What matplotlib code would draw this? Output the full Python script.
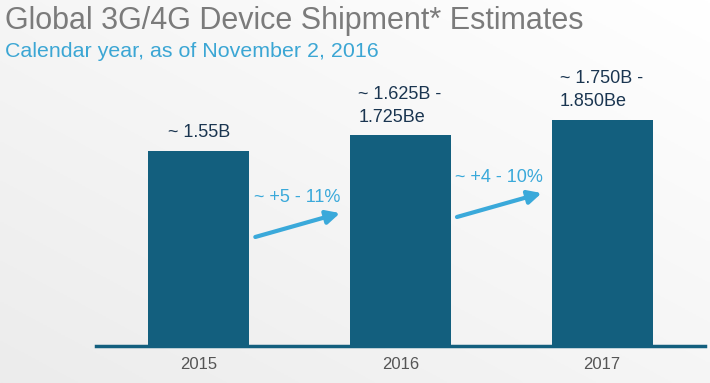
import matplotlib
matplotlib.use("Agg")
import matplotlib.pyplot as plt
import numpy as np

plt.rcParams['font.family'] = ['Liberation Sans', 'DejaVu Sans']

years = ["2015", "2016", "2017"]
values = [1.55, 1.675, 1.80]  # billions (midpoint of estimate ranges)
bar_labels = ["~ 1.55B", "~ 1.625B -\n1.725Be", "~ 1.750B -\n1.850Be"]
growth_labels = ["~ +5 - 11%", "~ +4 - 10%"]

title = "Global 3G/4G Device Shipment* Estimates"
subtitle = "Calendar year, as of November 2, 2016"

BAR = "#135f7e"
ARROW = "#3aa9da"
TEXT_DARK = "#1a3550"

fig = plt.figure(figsize=(7.1, 3.83), dpi=100)

# subtle gradient background
bg = fig.add_axes([0, 0, 1, 1], zorder=-10)
gx = np.linspace(0, 1, 200)
gy = np.linspace(0, 1, 200)
GX, GY = np.meshgrid(gx, gy)
grad = 0.5 * (1 - GX) + 0.5 * GY
bg.imshow(grad, cmap=matplotlib.colors.LinearSegmentedColormap.from_list("g", ["#ffffff", "#ececec"]),
          extent=[0, 1, 0, 1], aspect='auto', origin='upper', vmin=0, vmax=1)
bg.set_axis_off()

ax = fig.add_axes([96/710, 37/383, 609/710, 251.6/383])
ax.patch.set_alpha(0)
x = np.arange(len(years))
ax.bar(x, values, width=0.5, color=BAR, zorder=2)
ax.set_xlim(-0.51, 2.51)
ax.set_ylim(0, 2.0)
for s in ["top", "right", "left"]:
    ax.spines[s].set_visible(False)
ax.spines["bottom"].set_color(BAR)
ax.spines["bottom"].set_linewidth(2.5)
ax.set_yticks([])
ax.set_xticks(x)
ax.set_xticklabels(years, fontsize=12, color="#555555")
ax.tick_params(axis='x', length=0, pad=8)

# bar value labels
ax.text(x[0], values[0] + 0.08, bar_labels[0], ha='center', va='bottom',
        fontsize=13, color=TEXT_DARK)
for i in (1, 2):
    ax.text(x[i] - 0.21, values[i] + 0.075, bar_labels[i], ha='left', va='bottom',
            fontsize=13, color=TEXT_DARK, linespacing=1.45)

# growth arrows
offsets = [-0.746, -0.712]
for i, lab in enumerate(growth_labels):
    x0 = x[i] + 0.28
    x1 = x[i] + 0.70
    y0 = (values[i] + values[i + 1]) / 2 + offsets[i]
    y1 = y0 + 0.19
    ax.annotate("", xy=(x1, y1), xytext=(x0, y0),
                arrowprops=dict(arrowstyle="-|>,head_length=0.8,head_width=0.4",
                                color=ARROW, lw=3, shrinkA=0, shrinkB=0))
    ax.text((x0 + x1) / 2, y1 + 0.125, lab, ha='center', va='center',
            fontsize=13, color=ARROW)

fig.text(5/710, 1 - 6/383, title, ha='left', va='top', fontsize=22, color="#7b7b7b")
fig.text(5/710, 1 - 42/383, subtitle, ha='left', va='top', fontsize=15.4, color="#3ba6d4")

fig.savefig("out.png", dpi=100)
